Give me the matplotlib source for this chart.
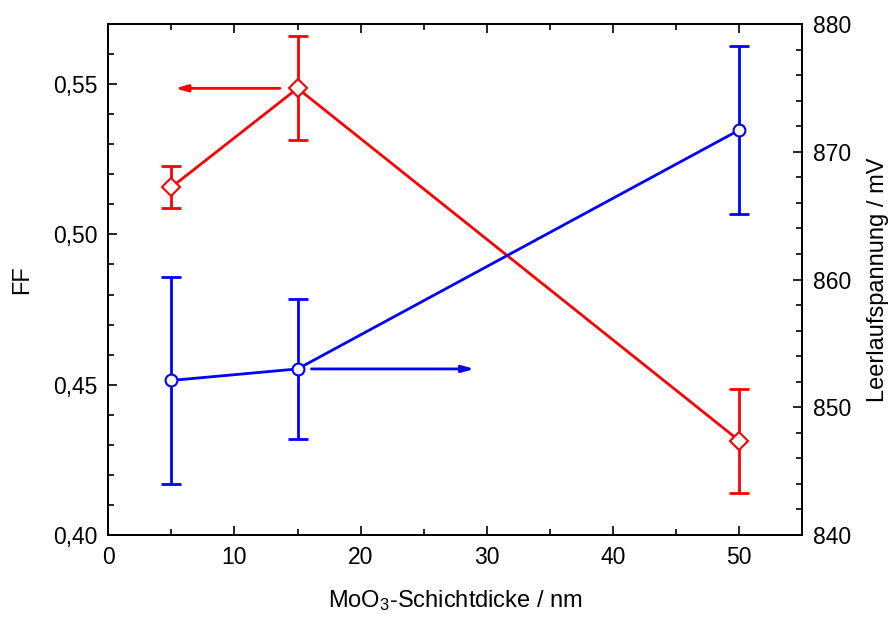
import matplotlib.pyplot as plt
from matplotlib.ticker import MultipleLocator, FuncFormatter

plt.rcParams['font.family'] = ['Liberation Sans', 'DejaVu Sans']
plt.rcParams['mathtext.default'] = 'regular'

# MoO3 layer thickness in nm
thickness = [5, 15, 50]
# fill factor (left axis)
ff = [0.5157, 0.5486, 0.4314]
ff_err = [0.0069, 0.0173, 0.0173]
# open circuit voltage in mV (right axis)
voc = [852.1, 853.0, 871.7]
voc_err = [8.1, 5.5, 6.6]

red = '#ff0000'
blue = '#0000ff'

fig = plt.figure(figsize=(8.93, 6.17), dpi=100)
ax = fig.add_axes([0.1213, 0.1329, 0.7771, 0.8282])
ax2 = ax.twinx()

# fill factor on the left axis
ax.errorbar(thickness, ff, yerr=ff_err, fmt='none', ecolor=red,
            elinewidth=2, capsize=7, capthick=2, zorder=2)
ax.plot(thickness, ff, color=red, lw=2, marker='D', ms=9,
        mfc='white', mec=red, mew=1.5, zorder=3)
ax.annotate('', xy=(5.3, ff[1]), xytext=(13.6, ff[1]),
            arrowprops=dict(arrowstyle='-|>,head_length=0.7,head_width=0.2',
                            color=red, lw=2, mutation_scale=10,
                            shrinkA=0, shrinkB=0))

# Voc on the right axis
ax2.errorbar(thickness, voc, yerr=voc_err, fmt='none', ecolor=blue,
             elinewidth=2, capsize=7, capthick=2, zorder=2)
ax2.plot(thickness, voc, color=blue, lw=2, marker='o', ms=8.5,
         mfc='white', mec=blue, mew=1.5, zorder=3)
ax2.annotate('', xy=(29.0, voc[1]), xytext=(16.1, voc[1]),
             arrowprops=dict(arrowstyle='-|>,head_length=0.7,head_width=0.2',
                             color=blue, lw=2, mutation_scale=10,
                             shrinkA=0, shrinkB=0))

ax.set_xlim(0, 55)
ax.set_ylim(0.40, 0.57)
ax2.set_ylim(840, 880)

ax.xaxis.set_major_locator(MultipleLocator(10))
ax.xaxis.set_minor_locator(MultipleLocator(5))
ax.yaxis.set_major_locator(MultipleLocator(0.05))
ax.yaxis.set_minor_locator(MultipleLocator(0.01))
ax.yaxis.set_major_formatter(FuncFormatter(lambda v, p: f"{v:.2f}".replace('.', ',')))
ax2.yaxis.set_major_locator(MultipleLocator(10))
ax2.yaxis.set_minor_locator(MultipleLocator(2))

ax.tick_params(axis='both', which='both', direction='in', top=True, right=False,
               labelsize=16.5, width=1.2, pad=8)
ax.tick_params(which='major', length=6.5)
ax.tick_params(which='minor', length=4)
ax2.tick_params(which='both', direction='in', labelsize=16.5, width=1.2, pad=8)
ax2.tick_params(which='major', length=6.5)
ax2.tick_params(which='minor', length=4)

for a in (ax, ax2):
    for s in a.spines.values():
        s.set_linewidth(1.3)

ax.set_xlabel('MoO$_3$-Schichtdicke / nm', fontsize=17, labelpad=14)
ax.set_ylabel('FF', fontsize=17, labelpad=14)
ax2.set_ylabel('Leerlaufspannung / mV', fontsize=17, labelpad=11)

fig.savefig('out.png', dpi=100)
